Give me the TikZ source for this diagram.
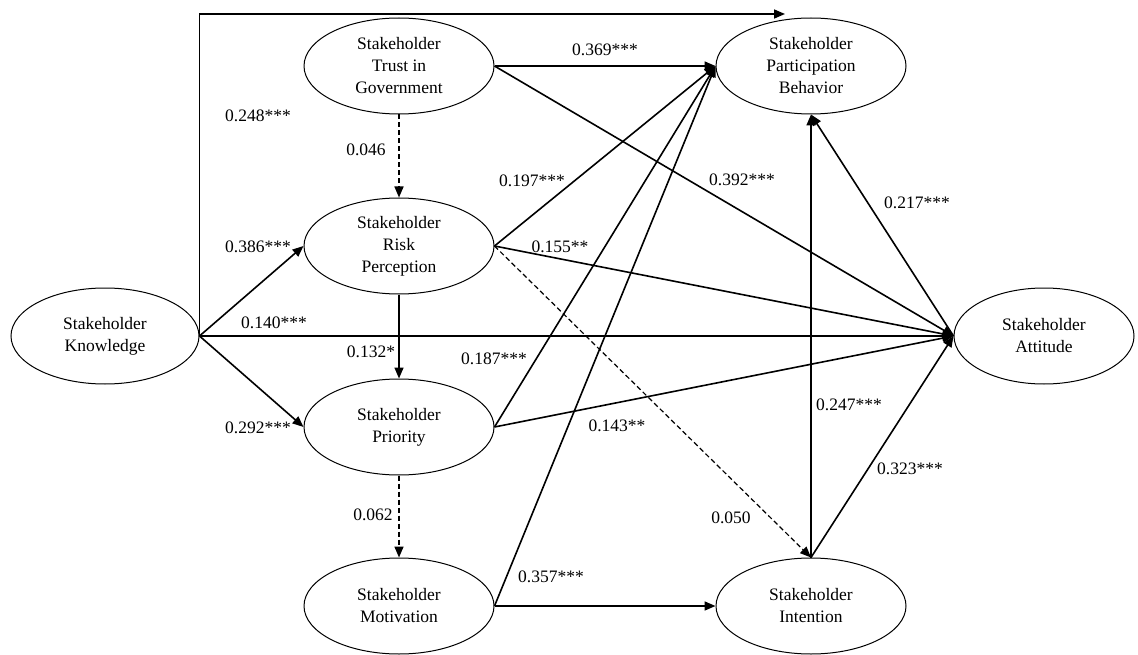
\documentclass[tikz,border=0pt]{standalone}
\usepackage{fontspec}
\setmainfont{Liberation Serif}
\usetikzlibrary{shapes.geometric,arrows.meta}
\begin{document}
\begin{tikzpicture}[x=1pt,y=-1pt,>={Triangle[length=11pt,width=9pt]},font=\fontsize{17.5}{22}\selectfont,
    latent/.style={ellipse,draw,line width=1pt,minimum width=190pt,minimum height=96pt,inner sep=0pt,align=center},
    effect/.style={->,line width=1.6pt},
    nsig/.style={effect,dash pattern=on 5pt off 3pt},
    coef/.style={inner sep=0pt}]
    \useasboundingbox (0,0) rectangle (1138,655);

    \node[latent,minimum width=188pt] (know) at (105,336) {Stakeholder\\Knowledge};
    \node[latent] (trust) at (399,66) {Stakeholder\\Trust in\\Government};
    \node[latent] (risk) at (399,246) {Stakeholder\\Risk\\Perception};
    \node[latent] (prio) at (399,427) {Stakeholder\\Priority};
    \node[latent] (motiv) at (399,606) {Stakeholder\\Motivation};
    \node[latent] (part) at (811,66) {Stakeholder\\Participation\\Behavior};
    \node[latent,minimum width=180pt] (attit) at (1044,336) {Stakeholder\\Attitude};
    \node[latent] (inten) at (811,606) {Stakeholder\\Intention};
    \coordinate (topend) at (785,14);

    \draw[effect] (know.east) |- (topend);
    \draw[effect] (know.east) -- (risk.west);
    \draw[effect] (know.east) -- (prio.west);
    \draw[effect] (know.east) -- (attit.west);
    \draw[nsig] (trust.south) -- (risk.north);
    \draw[effect] (risk.south) -- (prio.north);
    \draw[nsig] (prio.south) -- (motiv.north);
    \draw[effect] (trust.east) -- (part.west);
    \draw[effect] (risk.east) -- (part.west);
    \draw[effect] (prio.east) -- (part.west);
    \draw[effect] (motiv.east) -- (part.west);
    \draw[effect] (trust.east) -- (attit.west);
    \draw[effect] (risk.east) -- (attit.west);
    \draw[effect] (prio.east) -- (attit.west);
    \draw[nsig,line width=1.2pt] (risk.east) -- (inten.north);
    \draw[effect] (motiv.east) -- (inten.west);
    \draw[effect] (inten.north) -- (part.south);
    \draw[effect] (inten.north) -- (attit.west);
    \draw[effect] (attit.west) -- (part.south);

    \node[coef] (c1) at (258,116) {0.248***};
    \node[coef] (c2) at (366,150) {0.046};
    \node[coef] (c3) at (258,247) {0.386***};
    \node[coef] (c4) at (532,181) {0.197***};
    \node[coef] (c5) at (274,323) {0.140***};
    \node[coef] (c6) at (371,352) {0.132*};
    \node[coef] (c7) at (494,359) {0.187***};
    \node[coef] (c8) at (258,428) {0.292***};
    \node[coef] (c9) at (373,515) {0.062};
    \node[coef] (c10) at (551,577) {0.357***};
    \node[coef] (c11) at (605,50) {0.369***};
    \node[coef] (c12) at (742,180) {0.392***};
    \node[coef] (c13) at (917,203) {0.217***};
    \node[coef] (c14) at (560,247) {0.155**};
    \node[coef] (c15) at (849,405) {0.247***};
    \node[coef] (c16) at (617,426) {0.143**};
    \node[coef] (c17) at (910,469) {0.323***};
    \node[coef] (c18) at (731,518) {0.050};
\end{tikzpicture}
\end{document}
